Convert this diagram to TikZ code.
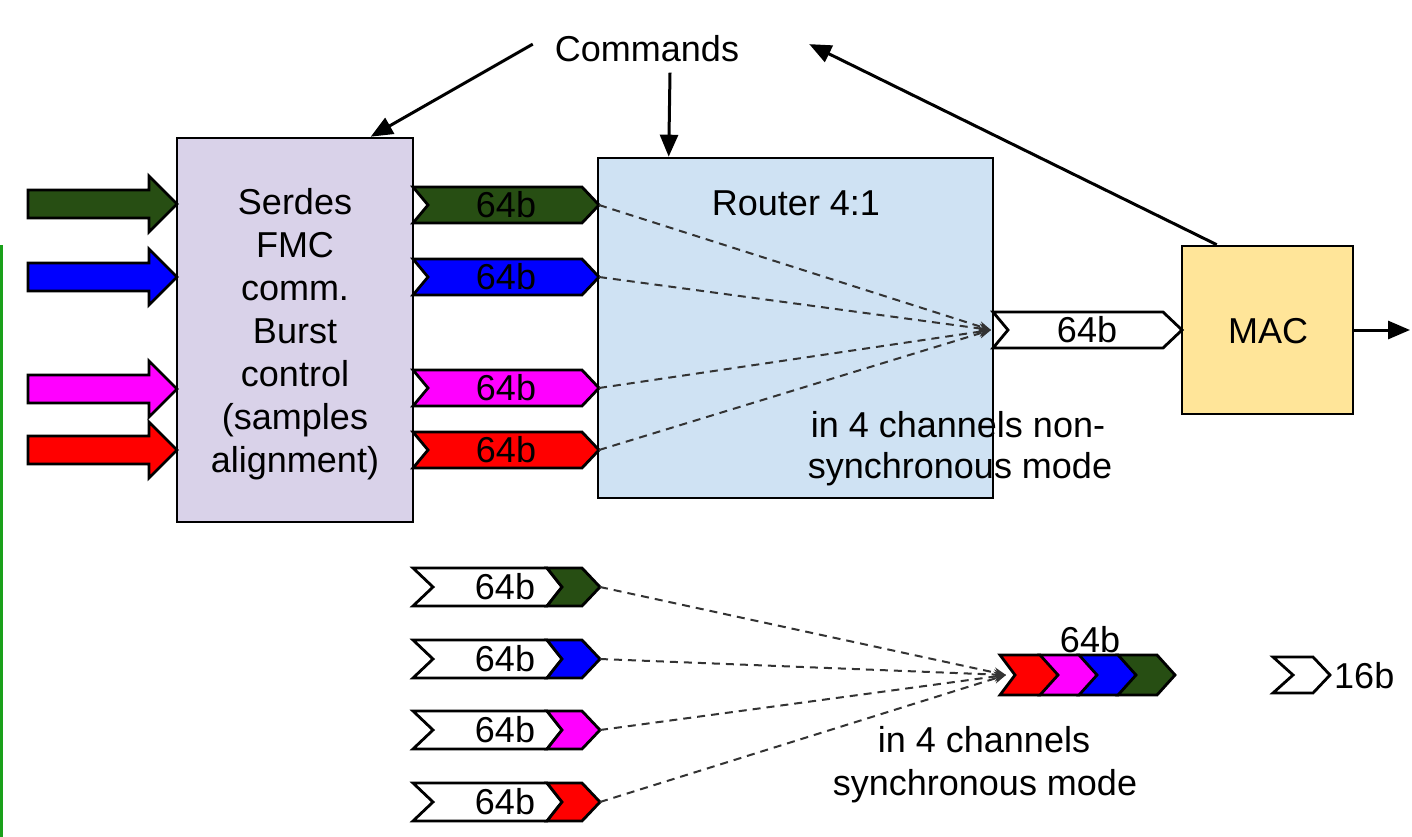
\documentclass[tikz,border=0pt]{standalone}
\usepackage{fontspec}
\setmainfont{Liberation Sans}
\usetikzlibrary{arrows.meta,calc}
\definecolor{dgreen}{HTML}{274E13}
\definecolor{mblue}{HTML}{0000FF}
\definecolor{mmag}{HTML}{FF00FF}
\definecolor{mred}{HTML}{FF0000}
\definecolor{serdesfill}{HTML}{D9D2E9}
\definecolor{routerfill}{HTML}{CFE2F3}
\definecolor{macfill}{HTML}{FFE599}
\definecolor{sidegreen}{HTML}{1AA01A}
% chevron: x0, body end, yc, half height, notch depth, tip length, fill
\newcommand\mychev[7]{%
  \filldraw[chevline,fill=#7] (#1,#3-#4) -- (#2,#3-#4) -- (#2+#6,#3) -- (#2,#3+#4) -- (#1,#3+#4) -- (#1+#5,#3) -- cycle;}
% big input arrow: yc, fill
\newcommand\mybigarrow[2]{%
  \filldraw[chevline,fill=#2] (28,#1-14) -- (149,#1-14) -- (149,#1-28) -- (177,#1) -- (149,#1+28) -- (149,#1+14) -- (28,#1+14) -- cycle;}
\begin{document}
\begin{tikzpicture}[x=1pt,y=-1pt,
  every node/.style={font=\fontsize{36}{43}\selectfont, inner sep=0pt},
  box/.style={draw, line width=2.6pt},
  chevline/.style={draw, line width=2.8pt, line join=miter},
  arr/.style={draw, line width=3pt, -{Triangle[length=22pt,width=18pt]}},
  dashconn/.style={line width=2pt, draw=black!80, dash pattern=on 8pt off 6pt, -{Stealth[length=12pt,width=10pt]}},
  lbl/.style={anchor=base}]
\useasboundingbox (0,0) rectangle (1412,837);
\fill[white] (0,0) rectangle (1412,837);
\draw[sidegreen, line width=2.5pt] (1.5,245) -- (1.5,837);

% main boxes
\node[box, fill=serdesfill, minimum width=236pt, minimum height=384pt] (serdes) at (295,330) {};
\node[box, fill=routerfill, minimum width=395pt, minimum height=340pt] (router) at (795.5,328) {};
\node[box, fill=macfill, minimum width=171pt, minimum height=168pt] (mac) at (1267.5,330) {};

\node[align=center, anchor=base] (serdestxt) at (295,472) {Serdes\\FMC\\comm.\\Burst\\control\\(samples\\alignment)};
\node[lbl] (routertxt) at (796,215) {Router 4:1};
\node[lbl] (mactxt) at (1268,343) {MAC};
\node[lbl] (cmd) at (647,62) {Commands};

% command arrows
\draw[arr] ($(cmd.west)+(-22,-5)$) -- ($(serdes.north west)+(195,0)$);
\draw[arr] ($(cmd.south)+(23,10)$) -- ($(router.north west)+(72,0)$);
\draw[arr] ($(mac.north west)+(36,0)$) -- ($(cmd.east)+(70,-5)$);
\coordinate (macout) at (1410,330);
\draw[arr] (mac.east) -- (macout);

% input arrows
\mybigarrow{204}{dgreen}
\mybigarrow{277}{mblue}
\mybigarrow{389}{mmag}
\mybigarrow{450}{mred}

% coloured 64b chevrons
\mychev{413}{582}{205}{18}{15}{17}{dgreen}
\mychev{413}{582}{277}{18}{15}{17}{mblue}
\mychev{413}{582}{388}{18}{15}{17}{mmag}
\mychev{413}{582}{450}{18}{15}{17}{mred}
\node (c1) at (506,205) {64b};
\node (c2) at (506,277) {64b};
\node (c3) at (506,388) {64b};
\node (c4) at (506,450) {64b};
\coordinate (t1) at (599,205);
\coordinate (t2) at (599,277);
\coordinate (t3) at (599,388);
\coordinate (t4) at (599,450);

% router output chevron
\mychev{993}{1163}{330}{18}{15}{19}{white}
\node (o64) at (1087,330) {64b};
\coordinate (conv) at (991,330);
\foreach \t in {t1,t2,t3,t4} \draw[dashconn] (\t) -- (conv);

\node[lbl] (nons1) at (958,437) {in 4 channels non-};
\node[lbl] (nons2) at (960,478) {synchronous mode};

% bottom chevrons
\foreach \yc/\col [count=\i] in {587/dgreen,659/mblue,730/mmag,802/mred}{
  \mychev{413}{547}{\yc}{19}{20}{15}{white}
  \mychev{547}{582}{\yc}{19}{15}{18}{\col}
  \node (b\i) at (505,\yc) {64b};
  \coordinate (bt\i) at (600,\yc);
}

% combined chevron
\mychev{1118}{1157}{675}{20}{15}{18}{dgreen}
\mychev{1079}{1118}{675}{20}{15}{18}{mblue}
\mychev{1040}{1079}{675}{20}{15}{18}{mmag}
\mychev{1000}{1040}{675}{20}{15}{18}{mred}
\node[lbl] (comb) at (1090,652) {64b};
\coordinate (conv2) at (1006,675);
\foreach \i in {1,2,3,4} \draw[dashconn] (bt\i) -- (conv2);

\node[lbl] (syn1) at (984,752) {in 4 channels};
\node[lbl] (syn2) at (985,795) {synchronous mode};

% 16b legend
\mychev{1273}{1313}{675}{18}{20}{17}{white}
\node[anchor=west] (l16) at (1334,676) {16b};
\end{tikzpicture}
\end{document}
